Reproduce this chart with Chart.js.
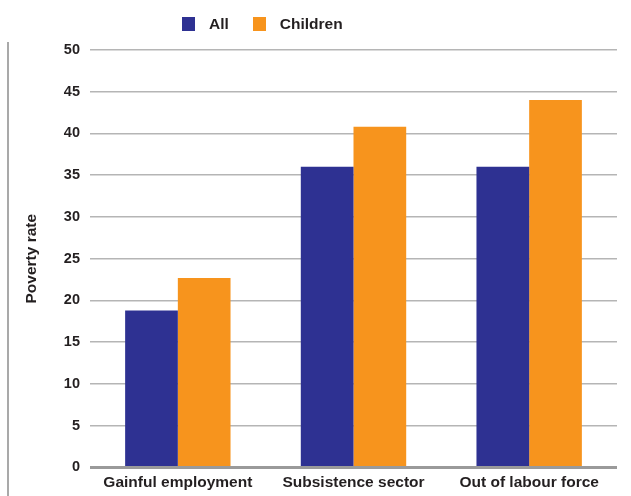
<!DOCTYPE html>
<html>
<head>
<meta charset="utf-8">
<script src="https://cdn.jsdelivr.net/npm/chart.js@4.4.1/dist/chart.umd.min.js"></script>
<style>
  html, body { margin: 0; padding: 0; background: #ffffff; }
  #wrap { position: relative; width: 631px; height: 496px; font-family: 'Liberation Sans', Arial, sans-serif; }
  #rule { position: absolute; left: 7px; top: 42px; height: 454px; border-left: 2px solid #a9a9a9; }
  canvas { position: absolute; left: 0; top: 0; }
  #legend { position: absolute; left: 182px; top: 15px; display: flex; align-items: center; height: 17px; }
  .item { display: flex; align-items: center; margin-right: 24px; }
  .swatch { width: 13px; height: 14px; margin-right: 14px; }
  .label { font-weight: bold; font-size: 15.5px; color: #231f20; line-height: 17px; }
</style>
</head>
<body>
<div id="wrap">
  <div id="rule"></div>
  <canvas id="chart" width="631" height="496"></canvas>
  <div id="legend"></div>
</div>
<script>
// Poverty rate by labour market status
const categories = ['Gainful employment', 'Subsistence sector', 'Out of labour force'];
const allValues = [18.8, 36.0, 36.0];
const childrenValues = [22.7, 40.8, 44.0];
const seriesNames = ['All', 'Children'];
const yTicks = [0, 5, 10, 15, 20, 25, 30, 35, 40, 45, 50];

const textColor = '#231f20';
const navy = '#2e3192';
const orange = '#f7941d';

const chart = new Chart(document.getElementById('chart'), {
  type: 'bar',
  data: {
    labels: categories,
    datasets: [
      { label: seriesNames[0], data: allValues, backgroundColor: navy },
      { label: seriesNames[1], data: childrenValues, backgroundColor: orange }
    ]
  },
  options: {
    responsive: false,
    animation: false,
    layout: { padding: { left: 0, right: 14, top: 50, bottom: -2 } },
    datasets: { bar: { categoryPercentage: 0.6, barPercentage: 1.0, borderWidth: 0 } },
    plugins: {
      tooltip: { enabled: false },
      legend: { display: false }
    },
    scales: {
      x: {
        grid: { display: false, drawTicks: false },
        border: { display: false },
        ticks: {
          color: textColor,
          padding: 6,
          maxRotation: 0,
          font: { family: 'Liberation Sans', weight: 'bold', size: 15.5 }
        }
      },
      y: {
        min: 0,
        max: 50,
        afterBuildTicks: (scale) => { scale.ticks = yTicks.map(v => ({ value: v })); },
        afterFit: (scale) => { scale.width = 90; },
        border: { display: false },
        grid: {
          drawTicks: false,
          color: (ctx) => ctx.tick && ctx.tick.value === 0 ? '#9a9a9a' : '#b5b5b5',
          lineWidth: (ctx) => ctx.tick && ctx.tick.value === 0 ? 3 : 1.6
        },
        ticks: {
          color: textColor,
          padding: 10,
          font: { family: 'Liberation Sans', weight: 'bold', size: 14.5 }
        },
        title: {
          display: true,
          text: 'Poverty rate',
          color: textColor,
          padding: { top: 22, bottom: 0 },
          font: { family: 'Liberation Sans', weight: 'bold', size: 15.5 }
        }
      }
    }
  }
});

// Legend built from the chart's own datasets
const legend = document.getElementById('legend');
chart.data.datasets.forEach((ds) => {
  const item = document.createElement('div');
  item.className = 'item';
  const sw = document.createElement('span');
  sw.className = 'swatch';
  sw.style.background = ds.backgroundColor;
  const lb = document.createElement('span');
  lb.className = 'label';
  lb.textContent = ds.label;
  item.appendChild(sw);
  item.appendChild(lb);
  legend.appendChild(item);
});
</script>
</body>
</html>
